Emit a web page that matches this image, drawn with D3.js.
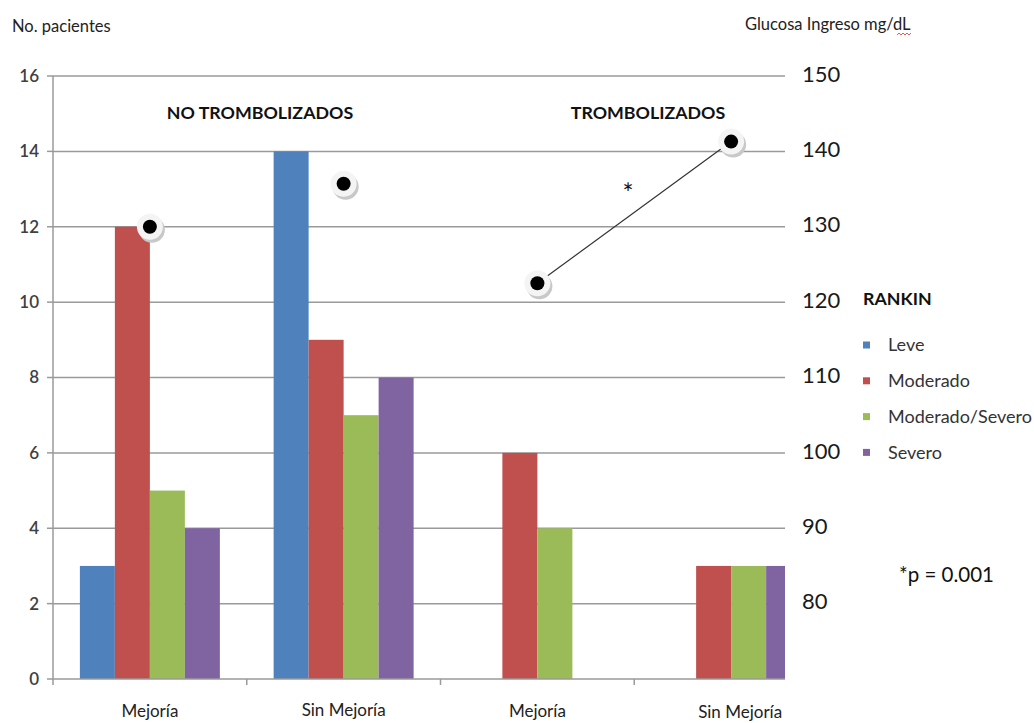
<!DOCTYPE html>
<html><head><meta charset="utf-8">
<script src="https://cdn.jsdelivr.net/npm/d3@7"></script>
<style>body{margin:0;background:#fff}svg{display:block;font-family:Lato,"Open Sans",sans-serif}</style>
</head><body><svg id="c" width="1034" height="723"></svg>
<script>
const categories = ["Mejoría","Sin Mejoría","Mejoría","Sin Mejoría"];
const series = ["Leve","Moderado","Moderado/Severo","Severo"];
const leve = [3,14,0,0];
const moderado = [12,9,6,3];
const moderadoSevero = [5,7,4,3];
const severo = [4,8,0,3];
const glucosa = [130,135.7,122.5,141.3];
const leftTicks = [0,2,4,6,8,10,12,14,16];
const rightTicks = [80,90,100,110,120,130,140,150];
const colors = ["#4F81BD","#C0504D","#9BBB59","#8064A2"];
const values = [leve,moderado,moderadoSevero,severo];

const svg = d3.select("#c");
const L=53, R=828, clipR=785, T=76, B=679;
const x0 = d3.scaleBand().domain(d3.range(categories.length)).range([L,R]);
const x1 = d3.scaleBand().domain(series).range([0,x0.bandwidth()]).paddingInner(0).paddingOuter(0.768);
const y = d3.scaleLinear().domain([0,16]).range([B,T]);
const y2 = d3.scaleLinear().domain([70,150]).range([B,T]);

svg.append("defs").append("clipPath").attr("id","pc").append("rect")
  .attr("x",L).attr("y",0).attr("width",clipR-L).attr("height",723);

const plot = svg.append("g").attr("clip-path","url(#pc)");
plot.selectAll("line.g").data(leftTicks.filter(d=>d>0)).join("line")
  .attr("x1",L).attr("x2",clipR).attr("y1",d=>y(d)).attr("y2",d=>y(d))
  .attr("stroke","#9a9a9a").attr("stroke-width",1.5);

series.forEach((s,si)=>{
  plot.append("g").selectAll("rect").data(values[si]).join("rect")
    .attr("x",(d,i)=>x0(i)+x1(s)).attr("width",x1.bandwidth())
    .attr("y",d=>y(d)).attr("height",d=>y(0)-y(d))
    .attr("fill",colors[si]);
});

// left axis
svg.append("line").attr("x1",L).attr("x2",L).attr("y1",T).attr("y2",B).attr("stroke","#9a9a9a").attr("stroke-width",1.5);
svg.selectAll("line.lt").data(leftTicks).join("line").attr("class","lt")
  .attr("x1",L-6).attr("x2",L).attr("y1",d=>y(d)).attr("y2",d=>y(d)).attr("stroke","#9a9a9a").attr("stroke-width",1.5);
svg.selectAll("text.lt").data(leftTicks).join("text").attr("class","lt")
  .attr("x",39).attr("y",d=>y(d)).attr("dy","0.35em").attr("text-anchor","end")
  .attr("font-size",17).attr("font-weight",600).attr("fill","#404040").text(d=>d);

// bottom axis
svg.append("line").attr("x1",L).attr("x2",clipR).attr("y1",B).attr("y2",B).attr("stroke","#9a9a9a").attr("stroke-width",1.5);
svg.selectAll("line.bt").data(d3.range(categories.length)).join("line").attr("class","bt")
  .attr("x1",d=>x0(d)).attr("x2",d=>x0(d)).attr("y1",B).attr("y2",B+6).attr("stroke","#9a9a9a").attr("stroke-width",1.5);
svg.selectAll("text.cat").data(categories).join("text").attr("class","cat")
  .attr("x",(d,i)=>x0(i)+x0.bandwidth()/2 + (i===3?9:0)).attr("y",(d,i)=>i===3?718:(i===1?716:717))
  .attr("text-anchor","middle").attr("font-size",17).attr("fill","#222").text(d=>d);

// right axis labels
svg.selectAll("text.rt").data(rightTicks).join("text").attr("class","rt")
  .attr("x",802).attr("y",d=>y2(d)-2).attr("dy","0.35em")
  .attr("font-size",22).attr("fill","#1a1a1a").text(d=>d);

// glucose markers
const gx = i => x0(i)+x0.bandwidth()/2;
const trombo = [2,3];
svg.append("path").datum(trombo)
  .attr("d",d3.line().x(i=>gx(i)).y(i=>y2(glucosa[i])))
  .attr("fill","none").attr("stroke","#333").attr("stroke-width",1.2);
const mk = svg.append("g").selectAll("g").data(glucosa).join("g")
  .attr("transform",(d,i)=>`translate(${gx(i)},${y2(d)})`);
mk.append("circle").attr("cx",2).attr("cy",3).attr("r",13).attr("fill","#c8c8c8");
mk.append("circle").attr("r",13).attr("fill","#f4f4f4");
mk.append("circle").attr("r",7).attr("fill","#000");

svg.append("text").attr("x",628).attr("y",203).attr("text-anchor","middle").attr("font-size",26).attr("fill","#111").text("*");

// titles
svg.append("text").attr("x",12).attr("y",32).attr("font-size",16.5).attr("fill","#222").text("No. pacientes");
svg.append("text").attr("x",745).attr("y",30).attr("font-size",16.5).attr("fill","#222").text("Glucosa Ingreso mg/dL");
svg.append("path").attr("d","M897,35 l2,-2 l2,2 l2,-2 l2,2 l2,-2 l2,2 l2,-2")
  .attr("fill","none").attr("stroke","#e03030").attr("stroke-width",0.8);
svg.append("text").attr("x",260).attr("y",119).attr("text-anchor","middle").attr("font-size",17.8).attr("font-weight",700).attr("fill","#111").text("NO TROMBOLIZADOS");
svg.append("text").attr("x",648).attr("y",119).attr("text-anchor","middle").attr("font-size",17.8).attr("font-weight",700).attr("fill","#111").text("TROMBOLIZADOS");

// legend
svg.append("text").attr("x",863).attr("y",305).attr("font-size",17.8).attr("font-weight",700).attr("fill","#111").text("RANKIN");
const lg = svg.append("g").selectAll("g").data(series).join("g")
  .attr("transform",(d,i)=>`translate(863,${345+i*35.8})`);
lg.append("rect").attr("x",0).attr("y",-3.5).attr("width",7).attr("height",7).attr("fill",(d,i)=>colors[i]);
lg.append("text").attr("x",25).attr("dy","0.35em").attr("font-size",18).attr("fill","#333").text(d=>d);

svg.append("text").attr("x",899).attr("y",582).attr("font-size",20.5).attr("fill","#111").text("*p = 0.001");
</script></body></html>
